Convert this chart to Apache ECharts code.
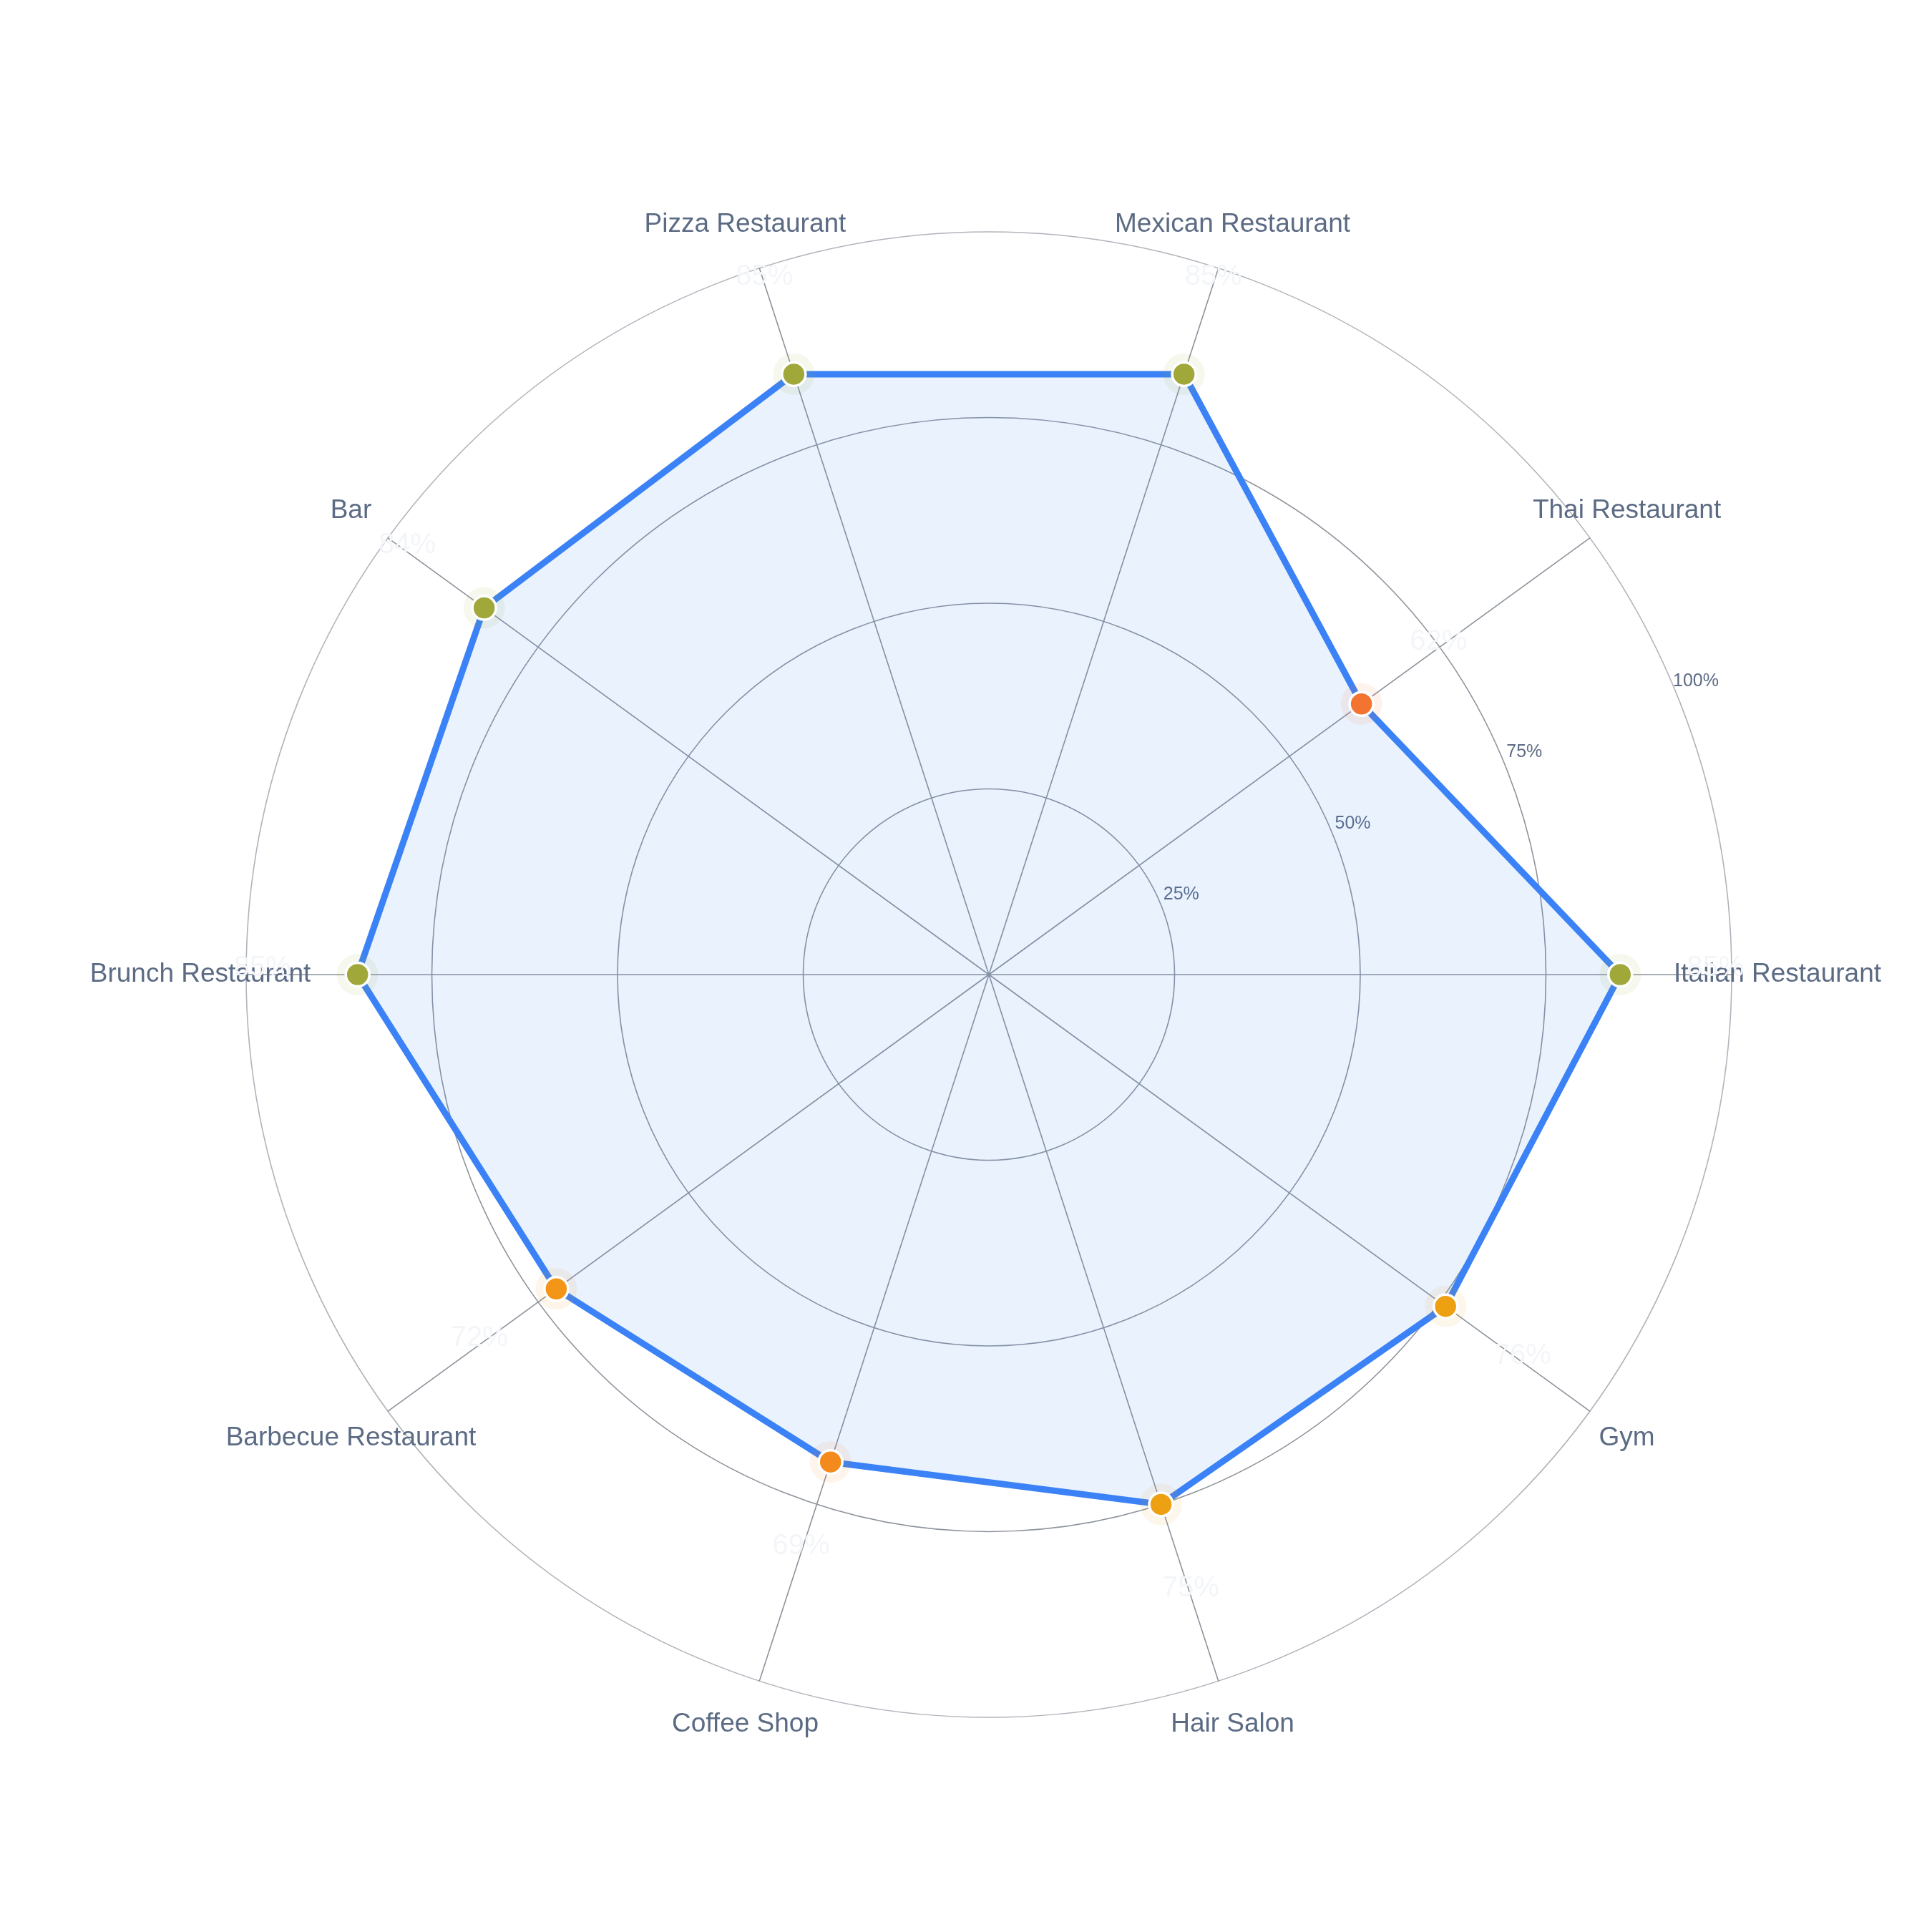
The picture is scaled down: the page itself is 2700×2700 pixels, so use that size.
<!DOCTYPE html>
<html><head><meta charset="utf-8">
<script src="https://cdn.jsdelivr.net/npm/echarts@6/dist/echarts.min.js"></script>
<style>html,body{margin:0;padding:0;background:#fff}#c{width:2700px;height:2700px}</style>
</head><body><div id="c"></div>
<script>
const categories = ['Italian Restaurant','Thai Restaurant','Mexican Restaurant','Pizza Restaurant','Bar','Brunch Restaurant','Barbecue Restaurant','Coffee Shop','Hair Salon','Gym'];
const values = [85, 62, 85, 85, 84, 85, 72, 69, 75, 76];
const radiusTicks = [0, 25, 50, 75, 100];
const tickLabels = ['0%', '25%', '50%', '75%', '100%'];

const CX = 1382, CY = 1362, R = 1038;
const font = "'Liberation Sans', Arial, Helvetica, sans-serif";
const chart = echarts.init(document.getElementById('c'), null, {renderer: 'canvas'});

const pointData = values.map((v, i) => [v, categories[i]]);

const option = {
  backgroundColor: '#ffffff',
  animation: false,
  radar: {
    center: [CX, CY], radius: R, startAngle: 0, shape: 'circle', splitNumber: 4,
    indicator: categories.map(n => ({name: n, min: 0, max: 100})),
    axisName: {color: '#5c6b84', fontSize: 37, fontFamily: font, align: 'center', verticalAlign: 'middle'},
    nameGap: 64,
    axisLine: {lineStyle: {color: '#8d939c', width: 1.6}},
    splitLine: {lineStyle: {color: ['#8d939c', '#8d939c', '#8d939c', '#8d939c', '#b0b4bb'], width: 1.6}},
    splitArea: {show: false},
    axisTick: {show: false},
    axisLabel: {show: false}
  },
  polar: [{center: [CX, CY], radius: R}, {center: [CX, CY], radius: R}],
  angleAxis: [
    {polarIndex: 0, type: 'category', data: categories, startAngle: 0, clockwise: false, boundaryGap: false, show: false},
    {polarIndex: 1, type: 'value', min: 0, max: 360, startAngle: 22.5, show: false}
  ],
  radiusAxis: [
    {polarIndex: 0, type: 'value', min: 0, max: 100, show: false},
    {polarIndex: 1, type: 'value', min: 0, max: 100, interval: 25,
      axisLine: {show: false}, axisTick: {show: false}, splitLine: {show: false},
      axisLabel: {show: true, margin: 0, align: 'center', verticalAlign: 'bottom', padding: [0, 0, 0, 58],
        fontSize: 25, color: '#5c6b84', fontFamily: font, showMinLabel: false,
        formatter: v => tickLabels[radiusTicks.indexOf(v)]}}
  ],
  visualMap: {
    type: 'piecewise', show: false, seriesIndex: [1, 2], dimension: 0,
    pieces: [
      {lt: 66, color: '#f37330'},
      {gte: 66, lt: 70.5, color: '#f48a1e'},
      {gte: 70.5, lt: 73.5, color: '#f39516'},
      {gte: 73.5, lt: 80, color: '#eda012'},
      {gte: 80, color: '#a0a83a'}
    ]
  },
  series: [
    {type: 'radar', z: 2, symbol: 'none', silent: true,
      data: [{value: values}],
      lineStyle: {color: '#3b82f6', width: 9},
      areaStyle: {color: 'rgba(59,130,246,0.15)'}},
    {type: 'scatter', coordinateSystem: 'polar', polarIndex: 0, z: 3, silent: true,
      symbolSize: 58, data: pointData, itemStyle: {opacity: 0.09}},
    {type: 'scatter', coordinateSystem: 'polar', polarIndex: 0, z: 4, silent: true,
      symbolSize: 33, data: pointData,
      itemStyle: {borderColor: '#ffffff', borderWidth: 3.5, opacity: 1},
      label: {show: true, formatter: p => p.value[0] + '%', fontSize: 40, color: '#f3f5f9', fontFamily: font},
      labelLayout: function (p) {
        const r = p.rect;
        const x = r.x + r.width / 2, y = r.y + r.height / 2;
        const dx = x - CX, dy = y - CY, d = Math.hypot(dx, dy) || 1;
        return {x: x + dx / d * 133, y: y + dy / d * 133 - 9, align: 'center', verticalAlign: 'middle'};
      }}
  ]
};
chart.setOption(option);
</script>
</body></html>
